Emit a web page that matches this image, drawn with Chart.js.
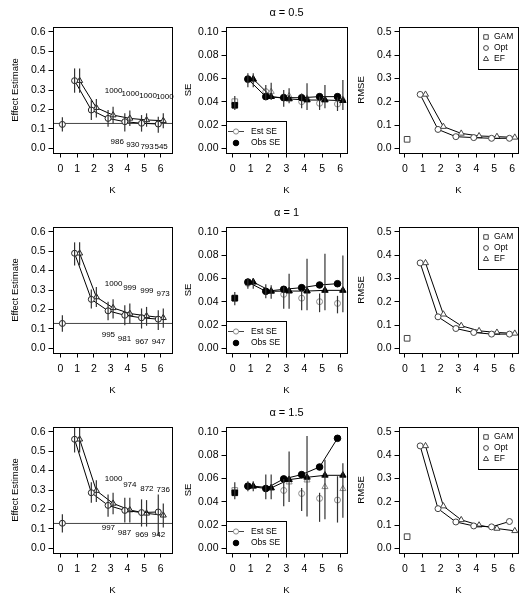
<!DOCTYPE html>
<html>
<head>
<meta charset="utf-8">
<script src="https://cdn.jsdelivr.net/npm/chart.js@4.4.1/dist/chart.umd.min.js"></script>
<style>
  html, body { margin: 0; padding: 0; background: #fff; }
  #wrap { position: relative; width: 529px; height: 600px; overflow: hidden; }
  #wrap canvas { position: absolute; }
</style>
</head>
<body>
<div id="wrap"></div>
<script>
// ---- axes / categories
const K = [1, 2, 3, 4, 5, 6];
const xTicks = [0, 1, 2, 3, 4, 5, 6];
const alphas = ['0.5', '1', '1.5'];
const effYTicks = [0, 0.1, 0.2, 0.3, 0.4, 0.5, 0.6];
const seYTicks = [0, 0.02, 0.04, 0.06, 0.08, 0.10];
const rmseYTicks = [0, 0.1, 0.2, 0.3, 0.4, 0.5];
const trueEffect = 0.128;

// ---- effect estimate, alpha = 0.5
const effGam05 = [0.123], effGamLo05 = [0.086], effGamHi05 = [0.160];
const effOpt05 = [0.348, 0.197, 0.154, 0.137, 0.129, 0.125];
const effOptLo05 = [0.286, 0.146, 0.111, 0.086, 0.086, 0.080];
const effOptHi05 = [0.411, 0.249, 0.197, 0.180, 0.171, 0.163];
const effEF05 = [0.348, 0.209, 0.171, 0.154, 0.146, 0.142];
const effEFLo05 = [0.286, 0.159, 0.129, 0.115, 0.111, 0.103];
const effEFHi05 = [0.411, 0.254, 0.214, 0.194, 0.180, 0.180];
const nTop05 = ['1000', '1000', '1000', '1000'];
const nTopX05 = [3.18, 4.19, 5.24, 6.24], nTopY05 = [0.296, 0.279, 0.271, 0.265];
const nBot05 = ['986', '930', '793', '545'];
const nBotX05 = [3.40, 4.33, 5.18, 6.02], nBotY05 = [0.034, 0.017, 0.008, 0.008];

// ---- effect estimate, alpha = 1
const effGam10 = [0.128], effGamLo10 = [0.085], effGamHi10 = [0.170];
const effOpt10 = [0.489, 0.252, 0.193, 0.170, 0.157, 0.150];
const effOptLo10 = [0.426, 0.205, 0.145, 0.119, 0.102, 0.094];
const effOptHi10 = [0.545, 0.303, 0.239, 0.222, 0.205, 0.196];
const effEF10 = [0.489, 0.264, 0.208, 0.179, 0.167, 0.157];
const effEFLo10 = [0.426, 0.213, 0.153, 0.128, 0.116, 0.106];
const effEFHi10 = [0.545, 0.315, 0.252, 0.230, 0.213, 0.205];
const nTop10 = ['1000', '999', '999', '973'];
const nTopX10 = [3.18, 4.15, 5.17, 6.14], nTopY10 = [0.331, 0.309, 0.295, 0.283];
const nBot10 = ['995', '981', '967', '947'];
const nBotX10 = [2.87, 3.83, 4.87, 5.86], nBotY10 = [0.068, 0.048, 0.034, 0.034];

// ---- effect estimate, alpha = 1.5
const effGam15 = [0.129], effGamLo15 = [0.082], effGamHi15 = [0.175];
const effOpt15 = [0.561, 0.286, 0.221, 0.195, 0.184, 0.187];
const effOptLo15 = [0.493, 0.235, 0.163, 0.133, 0.112, 0.065];
const effOptHi15 = [0.630, 0.340, 0.277, 0.260, 0.252, 0.277];
const effEF15 = [0.561, 0.297, 0.231, 0.197, 0.180, 0.170];
const effEFLo15 = [0.493, 0.238, 0.175, 0.133, 0.112, 0.107];
const effEFHi15 = [0.630, 0.350, 0.286, 0.260, 0.248, 0.231];
const nTop15 = ['1000', '974', '872', '736'];
const nTopX15 = [3.18, 4.15, 5.17, 6.15], nTopY15 = [0.356, 0.325, 0.305, 0.300];
const nBot15 = ['997', '987', '969', '942'];
const nBotX15 = [2.87, 3.83, 4.87, 5.86], nBotY15 = [0.106, 0.080, 0.068, 0.072];

// ---- SE, alpha = 0.5
const seGamEst05 = [0.0400], seGamObs05 = [0.0369], seGamLo05 = [0.0329], seGamHi05 = [0.0449];
const seObsOpt05 = [0.0594, 0.0443, 0.0434, 0.0434, 0.0443, 0.0443];
const seObsEF05 = [0.0594, 0.0443, 0.0423, 0.0414, 0.0414, 0.0409];
const seEstOpt05 = [0.0586, 0.0486, 0.0440, 0.0400, 0.0386, 0.0380];
const seEstOptLo05 = [0.0523, 0.0414, 0.0357, 0.0343, 0.0329, 0.0320];
const seEstOptHi05 = [0.0643, 0.0543, 0.0500, 0.0470, 0.0443, 0.0437];
const seEstEF05 = [0.0586, 0.0486, 0.0449, 0.0429, 0.0420, 0.0420];
const seEstEFLo05 = [0.0523, 0.0414, 0.0386, 0.0329, 0.0343, 0.0329];
const seEstEFHi05 = [0.0643, 0.0563, 0.0514, 0.0557, 0.0543, 0.0586];

// ---- SE, alpha = 1
const seGamEst10 = [0.0430], seGamObs10 = [0.0430], seGamLo10 = [0.0370], seGamHi10 = [0.0483];
const seObsOpt10 = [0.0568, 0.0489, 0.0506, 0.0520, 0.0543, 0.0554];
const seObsEF10 = [0.0568, 0.0489, 0.0491, 0.0491, 0.0497, 0.0497];
const seEstOpt10 = [0.0557, 0.0486, 0.0463, 0.0430, 0.0400, 0.0385];
const seEstOptLo10 = [0.0510, 0.0430, 0.0340, 0.0327, 0.0310, 0.0300];
const seEstOptHi10 = [0.0600, 0.0550, 0.0526, 0.0500, 0.0470, 0.0450];
const seEstEF10 = [0.0565, 0.0490, 0.0490, 0.0490, 0.0495, 0.0495];
const seEstEFLo10 = [0.0510, 0.0426, 0.0340, 0.0327, 0.0327, 0.0310];
const seEstEFHi10 = [0.0600, 0.0540, 0.0640, 0.0767, 0.0810, 0.0795];

// ---- SE, alpha = 1.5
const seGamEst15 = [0.0496], seGamObs15 = [0.0476], seGamLo15 = [0.0420], seGamHi15 = [0.0567];
const seObsOpt15 = [0.0533, 0.0513, 0.0595, 0.0632, 0.0697, 0.0943];
const seObsEF15 = [0.0533, 0.0518, 0.0589, 0.0609, 0.0626, 0.0626];
const seEstOpt15 = [0.0530, 0.0510, 0.0496, 0.0470, 0.0428, 0.0414];
const seEstOptLo15 = [0.0490, 0.0420, 0.0360, 0.0320, 0.0227, 0.0221];
const seEstOptHi15 = [0.0575, 0.0632, 0.0595, 0.0518, 0.0476, 0.0618];
const seEstEF15 = [0.0530, 0.0515, 0.0567, 0.0584, 0.0527, 0.0510];
const seEstEFLo15 = [0.0490, 0.0420, 0.0397, 0.0272, 0.0250, 0.0263];
const seEstEFHi15 = [0.0575, 0.0632, 0.0830, 0.0963, 0.0760, 0.0730];

// ---- RMSE
const rmseGam05 = [0.0386];
const rmseOpt05 = [0.231, 0.081, 0.050, 0.046, 0.043, 0.043];
const rmseEF05 = [0.231, 0.093, 0.064, 0.053, 0.050, 0.047];
const rmseGam10 = [0.043];
const rmseOpt10 = [0.366, 0.135, 0.085, 0.068, 0.061, 0.061];
const rmseEF10 = [0.366, 0.146, 0.097, 0.075, 0.068, 0.064];
const rmseGam15 = [0.050];
const rmseOpt15 = [0.439, 0.170, 0.113, 0.096, 0.092, 0.115];
const rmseEF15 = [0.439, 0.181, 0.122, 0.099, 0.085, 0.075];

// ---- layout / style
const FONT = '"Liberation Sans", Arial, Helvetica, sans-serif';
const INK = '#222', GREY = '#8a8a8a', BAR = '#333', CLEAR = 'rgba(0,0,0,0)';
const gamX = [0.12];
const optX = K.map(k => k - 0.15);
const efX = K.map(k => k + 0.15);
const COLS = [{ l: 53, r: 172 }, { l: 226, r: 347 }, { l: 399, r: 518 }];
const ROW_H = 200, BOX_TOP = 27, BOX_BOTTOM = 153, Y_AXIS_W = 53, PAD_R = 8;

const wrap = document.getElementById('wrap');

function makeCanvas(row, col) {
    const c = COLS[col];
    const left = c.l - Y_AXIS_W;
    const width = c.r - left + PAD_R;
    const cv = document.createElement('canvas');
    cv.width = width;
    cv.height = ROW_H;
    cv.style.left = left + 'px';
    cv.style.top = (row * ROW_H) + 'px';
    cv.style.width = width + 'px';
    cv.style.height = ROW_H + 'px';
    wrap.appendChild(cv);
    return cv;
}

function series(xs, ys, look) {
    return {
        data: ys.map((y, i) => ({ x: xs[i], y })),
        showLine: !!look.line,
        borderColor: '#000',
        borderWidth: 1,
        pointStyle: look.shape,
        pointRadius: look.r || 3,
        pointBorderColor: look.color,
        pointBackgroundColor: look.fill,
        pointBorderWidth: 1,
        order: 2
    };
}

// one tiny two-point line per error bar
function bars(xs, lo, hi, color) {
    return lo.map((l, i) => ({
        data: [{ x: xs[i], y: l }, { x: xs[i], y: hi[i] }],
        showLine: true,
        borderColor: color,
        borderWidth: 1.2,
        pointRadius: 0,
        order: 0
    }));
}

function drawSym(ctx, shape, r, x, y, stroke, fill) {
    ctx.strokeStyle = stroke;
    ctx.fillStyle = fill;
    ctx.lineWidth = 1;
    Chart.helpers.drawPoint(ctx, { pointStyle: shape, radius: r, borderWidth: 1, rotation: 0 }, x, y);
}

const decor = {
    id: 'decor',
    beforeDatasetsDraw(chart, args, opts) {
        if (opts.hline == null) return;
        const { ctx, chartArea: a } = chart;
        const y = chart.scales.y.getPixelForValue(opts.hline);
        ctx.save();
        ctx.strokeStyle = '#444';
        ctx.lineWidth = 1;
        ctx.beginPath();
        ctx.moveTo(a.left, y);
        ctx.lineTo(a.right, y);
        ctx.stroke();
        ctx.restore();
    },
    afterDraw(chart, args, opts) {
        const { ctx, chartArea: a } = chart;
        const xs = chart.scales.x, ys = chart.scales.y;
        ctx.save();

        // count labels
        ctx.fillStyle = '#000';
        ctx.font = '8px ' + FONT;
        ctx.textAlign = 'center';
        ctx.textBaseline = 'middle';
        (opts.labels || []).forEach(set => set.text.forEach((t, i) => {
            ctx.fillText(t, xs.getPixelForValue(set.x[i]), ys.getPixelForValue(set.y[i]));
        }));

        // legends
        if (opts.legend === 'se') {
            const x0 = a.left, y0 = a.bottom - 32;
            ctx.fillStyle = '#fff';
            ctx.fillRect(x0, y0, 60, 32);
            ctx.strokeStyle = '#000';
            ctx.lineWidth = 1;
            ctx.strokeRect(x0 + 0.5, y0 + 0.5, 60, 32);
            const y1 = a.bottom - 21.5, y2 = a.bottom - 10;
            ctx.strokeStyle = '#444';
            ctx.beginPath();
            ctx.moveTo(x0 + 2, y1);
            ctx.lineTo(x0 + 18, y1);
            ctx.stroke();
            drawSym(ctx, 'circle', 2.6, x0 + 10, y1, GREY, '#fff');
            drawSym(ctx, 'circle', 2.8, x0 + 10, y2, '#000', '#000');
            ctx.fillStyle = '#000';
            ctx.font = '8.5px ' + FONT;
            ctx.textAlign = 'left';
            ctx.fillText('Est SE', x0 + 25, y1);
            ctx.fillText('Obs SE', x0 + 25, y2);
        }
        if (opts.legend === 'rmse') {
            const x0 = a.right - 40, y0 = a.top;
            ctx.fillStyle = '#fff';
            ctx.fillRect(x0, y0, 40, 42);
            ctx.strokeStyle = '#000';
            ctx.lineWidth = 1;
            ctx.strokeRect(x0 + 0.5, y0 + 0.5, 40, 42);
            const names = ['GAM', 'Opt', 'EF'];
            const shapes = ['rect', 'circle', 'triangle'];
            const sizes = [3.2, 2.4, 3];
            names.forEach((n, i) => {
                const y = a.top + 10 + i * 11;
                drawSym(ctx, shapes[i], sizes[i], a.right - 32, y, '#444', CLEAR);
                ctx.fillStyle = '#000';
                ctx.font = '8.5px ' + FONT;
                ctx.textAlign = 'left';
                ctx.textBaseline = 'middle';
                ctx.fillText(n, a.right - 24, y);
            });
        }

        // box round the plot region
        ctx.strokeStyle = '#000';
        ctx.lineWidth = 1;
        ctx.strokeRect(a.left + 0.5, a.top + 0.5, a.right - a.left, a.bottom - a.top);

        // panel title
        if (opts.title) {
            ctx.fillStyle = '#000';
            ctx.font = '11px ' + FONT;
            ctx.textAlign = 'center';
            ctx.textBaseline = 'middle';
            ctx.fillText(opts.title, (a.left + a.right) / 2, 12.5);
        }
        ctx.restore();
    }
};

function xScale(range) {
    return {
        type: 'linear',
        min: range[0],
        max: range[1],
        afterBuildTicks: s => { s.ticks = xTicks.map(v => ({ value: v })); },
        afterFit: s => { s.height = ROW_H - BOX_BOTTOM; },
        ticks: {
            color: '#000', font: { family: FONT, size: 10.5 }, padding: 5.5,
            autoSkip: false, maxRotation: 0, callback: v => String(v)
        },
        grid: { drawOnChartArea: false, drawTicks: true, tickLength: 4.5, color: '#000', lineWidth: 1 },
        border: { display: false },
        title: {
            display: true, text: 'K', color: '#000',
            font: { family: FONT, size: 9.5 }, padding: { top: 0, bottom: 3.6 }
        }
    };
}

function yScale(range, ticks, digits, label) {
    return {
        type: 'linear',
        min: range[0],
        max: range[1],
        afterBuildTicks: s => { s.ticks = ticks.map(v => ({ value: v })); },
        afterFit: s => { s.width = Y_AXIS_W; },
        ticks: {
            color: '#000', font: { family: FONT, size: 10.5 }, padding: 3,
            autoSkip: false, callback: v => v.toFixed(digits)
        },
        grid: { drawOnChartArea: false, drawTicks: true, tickLength: 4.5, color: '#000', lineWidth: 1 },
        border: { display: false },
        title: {
            display: true, text: label, color: '#000',
            font: { family: FONT, size: 9.5 }, padding: { top: 10, bottom: 0 }
        }
    };
}

function panel(row, col, datasets, scales, decorOpts) {
    return new Chart(makeCanvas(row, col), {
        type: 'scatter',
        data: { datasets },
        options: {
            responsive: false,
            animation: false,
            events: [],
            layout: { padding: { top: BOX_TOP, right: PAD_R, left: 0, bottom: 0 } },
            plugins: { legend: { display: false }, tooltip: { enabled: false }, decor: decorOpts },
            scales
        },
        plugins: [decor]
    });
}

// ---- one row per alpha, built from the arrays above
const rows = [
    {
        eff: [effGam05, effGamLo05, effGamHi05, effOpt05, effOptLo05, effOptHi05, effEF05, effEFLo05, effEFHi05],
        top: [nTop05, nTopX05, nTopY05], bot: [nBot05, nBotX05, nBotY05],
        se: [seGamEst05, seGamObs05, seGamLo05, seGamHi05, seObsOpt05, seObsEF05,
             seEstOpt05, seEstOptLo05, seEstOptHi05, seEstEF05, seEstEFLo05, seEstEFHi05],
        rmse: [rmseGam05, rmseOpt05, rmseEF05]
    },
    {
        eff: [effGam10, effGamLo10, effGamHi10, effOpt10, effOptLo10, effOptHi10, effEF10, effEFLo10, effEFHi10],
        top: [nTop10, nTopX10, nTopY10], bot: [nBot10, nBotX10, nBotY10],
        se: [seGamEst10, seGamObs10, seGamLo10, seGamHi10, seObsOpt10, seObsEF10,
             seEstOpt10, seEstOptLo10, seEstOptHi10, seEstEF10, seEstEFLo10, seEstEFHi10],
        rmse: [rmseGam10, rmseOpt10, rmseEF10]
    },
    {
        eff: [effGam15, effGamLo15, effGamHi15, effOpt15, effOptLo15, effOptHi15, effEF15, effEFLo15, effEFHi15],
        top: [nTop15, nTopX15, nTopY15], bot: [nBot15, nBotX15, nBotY15],
        se: [seGamEst15, seGamObs15, seGamLo15, seGamHi15, seObsOpt15, seObsEF15,
             seEstOpt15, seEstOptLo15, seEstOptHi15, seEstEF15, seEstEFLo15, seEstEFHi15],
        rmse: [rmseGam15, rmseOpt15, rmseEF15]
    }
];

rows.forEach((r, i) => {
    // 1. Effect estimate
    const [g, gLo, gHi, o, oLo, oHi, e, eLo, eHi] = r.eff;
    panel(i, 0, [
        ...bars(gamX, gLo, gHi, BAR),
        ...bars(optX, oLo, oHi, BAR),
        ...bars(efX, eLo, eHi, BAR),
        series(gamX, g, { shape: 'circle', color: INK, fill: '#fff' }),
        series(optX, o, { shape: 'circle', color: INK, fill: '#fff', line: true }),
        series(efX, e, { shape: 'triangle', color: INK, fill: '#fff', line: true, r: 3.5 })
    ], {
        x: xScale([-0.44, 6.67]),
        y: yScale([-0.024, 0.624], effYTicks, 1, 'Effect Estimate')
    }, {
        hline: trueEffect,
        labels: [
            { text: r.top[0], x: r.top[1], y: r.top[2] },
            { text: r.bot[0], x: r.bot[1], y: r.bot[2] }
        ]
    });

    // 2. SE
    const [ge, go, sLo, sHi, obsO, obsE, estO, estOLo, estOHi, estE, estELo, estEHi] = r.se;
    panel(i, 1, [
        ...bars(gamX, sLo, sHi, BAR),
        ...bars(optX, estOLo, estOHi, BAR),
        ...bars(efX, estELo, estEHi, BAR),
        series(optX, obsO, { shape: 'circle', color: '#000', fill: '#000', line: true, r: 3.3 }),
        series(efX, obsE, { shape: 'triangle', color: '#000', fill: '#000', line: true, r: 3.7 }),
        series(optX, estO, { shape: 'circle', color: GREY, fill: CLEAR }),
        series(efX, estE, { shape: 'triangle', color: GREY, fill: CLEAR, r: 3.5 }),
        series(gamX, go, { shape: 'rect', color: '#000', fill: '#000', r: 4 }),
        series(gamX, ge, { shape: 'rect', color: GREY, fill: CLEAR, r: 4 })
    ], {
        x: xScale([-0.37, 6.38]),
        y: yScale([-0.004, 0.104], seYTicks, 2, 'SE')
    }, {
        legend: 'se',
        title: '\u03B1 = ' + alphas[i]
    });

    // 3. RMSE
    const [rg, ro, re] = r.rmse;
    panel(i, 2, [
        series(gamX, rg, { shape: 'rect', color: '#444', fill: '#fff', r: 4 }),
        series(optX, ro, { shape: 'circle', color: '#444', fill: '#fff', line: true }),
        series(efX, re, { shape: 'triangle', color: '#444', fill: '#fff', line: true, r: 3.5 })
    ], {
        x: xScale([-0.335, 6.33]),
        y: yScale([-0.02, 0.52], rmseYTicks, 1, 'RMSE')
    }, {
        legend: 'rmse'
    });
});
</script>
</body>
</html>
